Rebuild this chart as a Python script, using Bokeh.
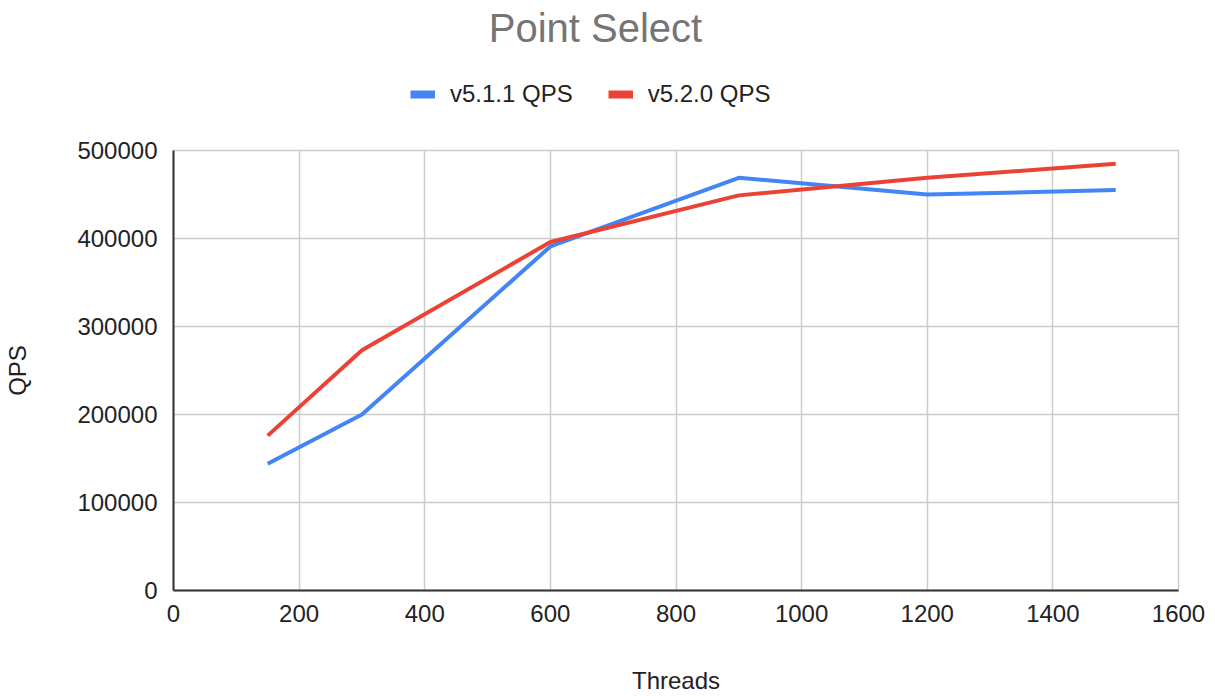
from bokeh.plotting import figure
from bokeh.layouts import column
from bokeh.models import Legend, LegendItem, Label, Range1d, FixedTicker, NumeralTickFormatter
from bokeh.embed import file_html
from bokeh.resources import INLINE

threads = [150, 300, 600, 900, 1200, 1500]
qps_511 = [144000, 200000, 391000, 469000, 450000, 455000]
qps_520 = [176000, 273000, 396000, 449000, 469000, 485000]
x_ticks = [0, 200, 400, 600, 800, 1000, 1200, 1400, 1600]
y_ticks = [0, 100000, 200000, 300000, 400000, 500000]
series_names = ["v5.1.1 QPS", "v5.2.0 QPS"]
colors = ["#4285f4", "#ea4335"]

FONT = "Liberation Sans"
HEAD_H = 130

# ---- header: title + legend ----
head = figure(width=1215, height=HEAD_H, output_backend="svg", toolbar_location=None,
              x_range=Range1d(0, 1215), y_range=Range1d(0, HEAD_H),
              min_border=0, min_border_left=0, min_border_right=0, min_border_top=0, min_border_bottom=0)
head.axis.visible = False
head.grid.visible = False
head.outline_line_color = None
head.title.visible = False

title = Label(x=422, y=HEAD_H - 27, x_units="screen", y_units="screen", text="Point Select",
              text_font=FONT, text_font_size="40px", text_color="#757575",
              text_align="center", text_baseline="alphabetic")
head.add_layout(title)

k1 = head.line([float("nan")], [float("nan")], line_color=colors[0], line_width=8)
k2 = head.line([float("nan")], [float("nan")], line_color=colors[1], line_width=8)
legend = Legend(items=[LegendItem(label=series_names[0], renderers=[k1]),
                       LegendItem(label=series_names[1], renderers=[k2])],
                orientation="horizontal", location=(237, HEAD_H - 108),
                label_text_font=FONT, label_text_font_size="24px", label_text_color="#222222",
                glyph_width=25, glyph_height=28, label_standoff=15, spacing=35, padding=0, margin=0,
                border_line_color=None, background_fill_alpha=0)
head.add_layout(legend, "center")

# ---- main chart ----
p = figure(width=1215, height=696 - HEAD_H, output_backend="svg", toolbar_location=None,
           x_range=Range1d(0, 1600), y_range=Range1d(0, 500000),
           min_border_left=173, min_border_right=37, min_border_top=150 - HEAD_H, min_border_bottom=100)
p.title.visible = False

p.line(threads, qps_511, line_color=colors[0], line_width=4)
p.line(threads, qps_520, line_color=colors[1], line_width=4)

for ax in (p.xaxis[0], p.yaxis[0]):
    ax.major_label_text_font = FONT
    ax.major_label_text_font_size = "24px"
    ax.major_label_text_color = "#222222"
    ax.axis_label_text_font = FONT
    ax.axis_label_text_font_size = "24px"
    ax.axis_label_text_font_style = "normal"
    ax.axis_label_text_color = "#222222"
    ax.major_tick_line_color = None
    ax.minor_tick_line_color = None
    ax.axis_line_color = "#333333"
    ax.axis_line_width = 2

p.xaxis.ticker = FixedTicker(ticks=x_ticks)
p.yaxis.ticker = FixedTicker(ticks=y_ticks)
p.yaxis.formatter = NumeralTickFormatter(format="0")
p.xaxis.axis_label = "Threads"
p.yaxis.axis_label = "QPS"
p.xaxis.major_label_standoff = 8
p.yaxis.major_label_standoff = 10
p.xaxis.axis_label_standoff = 42
p.yaxis.axis_label_standoff = 43

p.xgrid.grid_line_color = "#cccccc"
p.ygrid.grid_line_color = "#cccccc"
p.xgrid.grid_line_width = 1.5
p.ygrid.grid_line_width = 1.5
p.xgrid.ticker = FixedTicker(ticks=x_ticks)
p.ygrid.ticker = FixedTicker(ticks=y_ticks)
p.outline_line_color = "#cccccc"
p.outline_line_width = 1.5

layout = column(head, p, spacing=0)
open("out.html", "w").write(file_html(layout, INLINE))
